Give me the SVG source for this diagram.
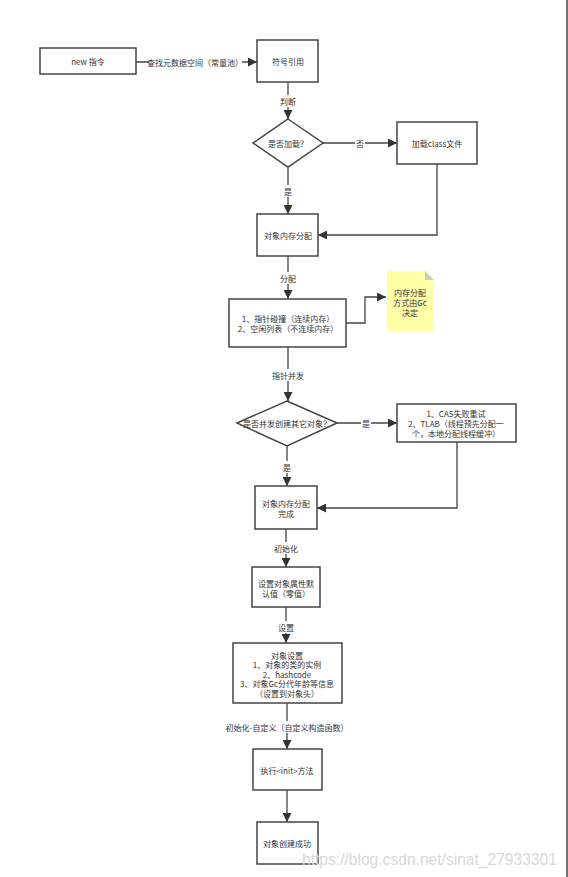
<svg xmlns="http://www.w3.org/2000/svg" width="568" height="877" viewBox="0 0 568 877">
<defs>
<marker id="ah" viewBox="0 0 10 10" refX="10" refY="5" markerWidth="9" markerHeight="9" markerUnits="userSpaceOnUse" orient="auto">
<path d="M0,0 L10,5 L0,10 Z" fill="#333"/>
</marker>
<style>
.box{fill:#fff;stroke:#444;stroke-width:1.5}
.t{font-family:"Noto Sans CJK SC","Liberation Sans",sans-serif;font-size:8px;fill:#333;text-anchor:middle;dominant-baseline:central}
.e{fill:none;stroke:#444;stroke-width:1.3;marker-end:url(#ah)}
.lb{fill:#fff}
</style>
</defs>
<rect width="568" height="877" fill="#fff"/>
<line x1="567" y1="0" x2="567" y2="877" stroke="#444" stroke-width="1.5"/>

<g id="connectors">
<path class="e" d="M136,62 H257"/>
<path class="e" d="M288,82 V119"/>
<path class="e" d="M323,143 H397"/>
<path class="e" d="M288,167 V214"/>
<path class="e" d="M437,164 V235 H318"/>
<path class="e" d="M288,256 V299"/>
<path class="e" d="M346,323 H365 V297 H386"/>
<path class="e" d="M288,347 V401"/>
<path class="e" d="M337,423 H397"/>
<path class="e" d="M287,446 V486"/>
<path class="e" d="M457,442 V508 H317"/>
<path class="e" d="M286,529 V567"/>
<path class="e" d="M286,607 V643"/>
<path class="e" d="M287,703 V749"/>
<path class="e" d="M287,790 V822"/>
<rect class="lb" x="149" y="56" width="93" height="12"/>
<text class="t" x="195" y="62">查找元数据空间（常量池）</text>
<rect class="lb" x="279" y="95" width="18" height="12"/>
<text class="t" x="288" y="101">判断</text>
<rect class="lb" x="355" y="137" width="10" height="12"/>
<text class="t" x="360" y="143">否</text>
<rect class="lb" x="283" y="185" width="10" height="12"/>
<text class="t" x="288" y="191">是</text>
<rect class="lb" x="279" y="272" width="18" height="12"/>
<text class="t" x="288" y="278">分配</text>
<rect class="lb" x="271" y="369" width="34" height="12"/>
<text class="t" x="288" y="375">指针并发</text>
<rect class="lb" x="361" y="417" width="10" height="12"/>
<text class="t" x="366" y="423">是</text>
<rect class="lb" x="282" y="461" width="10" height="12"/>
<text class="t" x="287" y="467">是</text>
<rect class="lb" x="273" y="542" width="26" height="12"/>
<text class="t" x="286" y="548">初始化</text>
<rect class="lb" x="277" y="621" width="18" height="12"/>
<text class="t" x="286" y="627">设置</text>
<rect class="lb" x="226" y="721" width="122" height="12"/>
<text class="t" x="287" y="727">初始化-自定义（自定义构造函数）</text>
</g>

<g id="new">
<rect class="box" x="40" y="48" width="96" height="26"/>
<text class="t" x="88" y="61">new 指令</text>
</g>
<g id="symref">
<rect class="box" x="257" y="40" width="61" height="42"/>
<text class="t" x="288" y="61">符号引用</text>
</g>
<g id="loaded">
<polygon class="box" points="288,119 323,143 288,167 253,143"/>
<text class="t" x="288" y="143">是否加载？</text>
</g>
<g id="loadclass">
<rect class="box" x="397" y="122" width="80" height="42"/>
<text class="t" x="437" y="143">加载class文件</text>
</g>
<g id="alloc">
<rect class="box" x="257" y="214" width="61" height="42"/>
<text class="t" x="288" y="235">对象内存分配</text>
</g>
<g id="methods">
<rect class="box" x="229" y="299" width="117" height="48"/>
<text class="t" x="288" y="318">1、指针碰撞（连续内存）</text>
<text class="t" x="288" y="328">2、空闲列表（不连续内存）</text>
</g>
<g id="note">
<path d="M387,271 H425 L434,280 V331 H387 Z" fill="#ffffa6"/>
<path d="M425,271 L434,280 H425 Z" fill="#ccc"/>
<text class="t" x="410" y="292">内存分配</text>
<text class="t" x="410" y="302">方式由Gc</text>
<text class="t" x="410" y="312">决定</text>
</g>
<g id="concurrent">
<polygon class="box" points="287,401 337,423 287,446 237,423"/>
<text class="t" x="287" y="423">是否并发创建其它对象？</text>
</g>
<g id="cas">
<rect class="box" x="397" y="404" width="119" height="38"/>
<text class="t" x="456" y="413">1、CAS失败重试</text>
<text class="t" x="456" y="423">2、TLAB（线程预先分配一</text>
<text class="t" x="456" y="433">个，本地分配线程缓冲）</text>
</g>
<g id="allocdone">
<rect class="box" x="255" y="486" width="62" height="43"/>
<text class="t" x="286" y="503">对象内存分配</text>
<text class="t" x="286" y="513">完成</text>
</g>
<g id="zero">
<rect class="box" x="252" y="567" width="68" height="40"/>
<text class="t" x="286" y="583">设置对象属性默</text>
<text class="t" x="286" y="593">认值（零值）</text>
</g>
<g id="setup">
<rect class="box" x="233" y="643" width="109" height="60"/>
<text class="t" x="287" y="655">对象设置</text>
<text class="t" x="287" y="664.5">1、对象的类的实例</text>
<text class="t" x="287" y="674">2、hashcode</text>
<text class="t" x="287" y="683.5">3、对象Gc分代年龄等信息</text>
<text class="t" x="287" y="693">（设置到对象头）</text>
</g>
<g id="init">
<rect class="box" x="253" y="749" width="69" height="41"/>
<text class="t" x="287" y="770">执行&lt;init&gt;方法</text>
</g>
<g id="done">
<rect class="box" x="257" y="822" width="61" height="42"/>
<text class="t" x="287" y="843">对象创建成功</text>
</g>
<text x="302" y="865" font-family="Liberation Sans, sans-serif" font-size="15.6" fill="#d8d8d8">https://blog.csdn.net/sinat_27933301</text>
</svg>
